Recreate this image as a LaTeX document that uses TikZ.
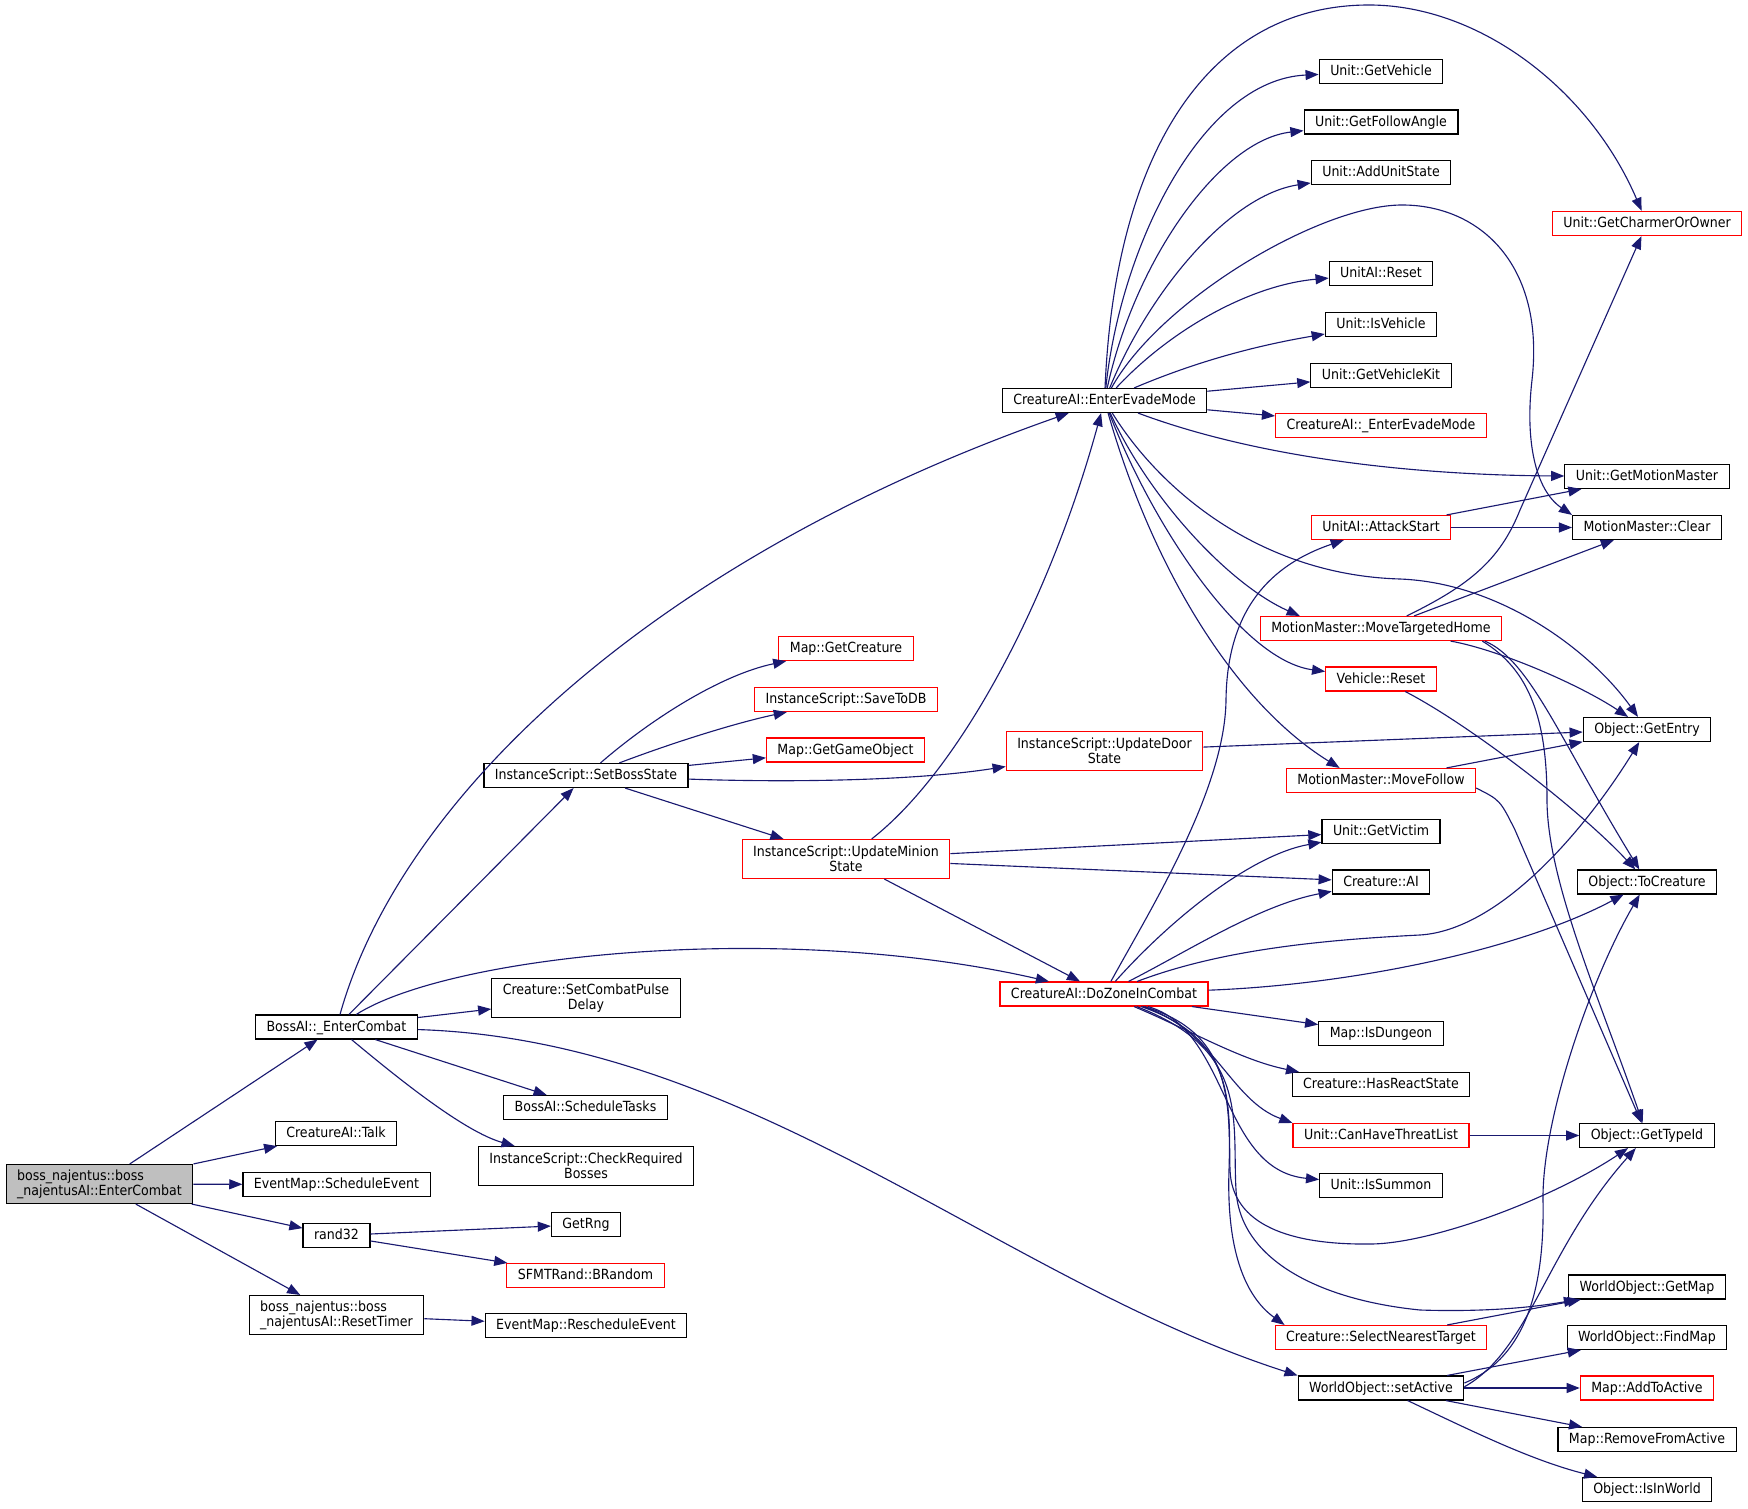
\documentclass[tikz,border=0pt]{standalone}
\usepackage{fontspec}
\setmainfont{DejaVu Sans Condensed}
\usetikzlibrary{arrows.meta}
\definecolor{callblue}{HTML}{191970}
\definecolor{callergray}{HTML}{BFBFBF}
\tikzset{
  fnbase/.style={draw=black, fill=white, line width=0.9pt, inner xsep=8.8pt, inner ysep=2pt,
    font=\fontsize{11.2}{12}\selectfont},
  fn/.style={fnbase, minimum height=19.2pt, text height=8.5pt, text depth=1.6pt},
  fn2/.style={fnbase, align=center, minimum height=31.2pt},
  trunc/.style={draw=red},
  caller/.style={fill=callergray},
  call/.style={draw=callblue, line width=0.9pt, -{Triangle[length=10.5pt,width=8pt]}},
}
\begin{document}
\begin{tikzpicture}[x=0.8pt,y=-0.8pt]
\useasboundingbox (0,0) rectangle (1748,1509);
% the function itself
\node[fn2, caller, align=left] (boss) at (99.5,1184) {boss\_najentus::boss\\\_najentusAI::EnterCombat};
% called by EnterCombat
\node[fn] (bai) at (336.5,1027) {BossAI::\_EnterCombat};
\node[fn] (talk) at (336,1133.5) {CreatureAI::Talk};
\node[fn] (sched) at (336.5,1184.5) {EventMap::ScheduleEvent};
\node[fn] (rnd) at (336.5,1235.5) {rand32};
\node[fn2, align=left] (reset) at (336.5,1315) {boss\_najentus::boss\\\_najentusAI::ResetTimer};
% second column
\node[fn] (sbs) at (586,775.5) {InstanceScript::SetBossState};
\node[fn2] (pulse) at (586,998) {Creature::SetCombatPulse\\Delay};
\node[fn] (tasks) at (585.5,1107.5) {BossAI::ScheduleTasks};
\node[fn2] (chkb) at (586,1166) {InstanceScript::CheckRequired\\Bosses};
\node[fn] (rng) at (586,1224.5) {GetRng};
\node[fn, trunc] (brnd) at (585.5,1275.5) {SFMTRand::BRandom};
\node[fn] (resch) at (586,1325.5) {EventMap::RescheduleEvent};
% third column
\node[fn, trunc] (getcr) at (846,648.5) {Map::GetCreature};
\node[fn, trunc] (save) at (846,699.5) {InstanceScript::SaveToDB};
\node[fn, trunc] (getgo) at (845.5,750) {Map::GetGameObject};
\node[fn2, trunc] (minion) at (846,859) {InstanceScript::UpdateMinion\\State};
% fourth column
\node[fn] (evade) at (1104.5,400.5) {CreatureAI::EnterEvadeMode};
\node[fn2, trunc] (door) at (1104.5,751) {InstanceScript::UpdateDoor\\State};
\node[fn, trunc] (zone) at (1104,994) {CreatureAI::DoZoneInCombat};
% fifth column
\node[fn] (getveh) at (1381,71.5) {Unit::GetVehicle};
\node[fn] (follow) at (1381,122) {Unit::GetFollowAngle};
\node[fn] (addst) at (1381,172.5) {Unit::AddUnitState};
\node[fn] (uareset) at (1381,273.5) {UnitAI::Reset};
\node[fn] (isveh) at (1381,324.5) {Unit::IsVehicle};
\node[fn] (vkit) at (1381,375.5) {Unit::GetVehicleKit};
\node[fn, trunc] (uevade) at (1381,425.5) {CreatureAI::\_EnterEvadeMode};
\node[fn, trunc] (attack) at (1381,527.5) {UnitAI::AttackStart};
\node[fn, trunc] (home) at (1381,628.5) {MotionMaster::MoveTargetedHome};
\node[fn, trunc] (vreset) at (1381,679) {Vehicle::Reset};
\node[fn, trunc] (mfollow) at (1381,780.5) {MotionMaster::MoveFollow};
\node[fn] (victim) at (1381,831.5) {Unit::GetVictim};
\node[fn] (crai) at (1381,882) {Creature::AI};
\node[fn] (dungeon) at (1381,1033.5) {Map::IsDungeon};
\node[fn] (react) at (1381,1084.5) {Creature::HasReactState};
\node[fn, trunc] (threat) at (1381,1135.5) {Unit::CanHaveThreatList};
\node[fn] (summon) at (1381,1185.5) {Unit::IsSummon};
\node[fn, trunc] (nearest) at (1381,1337.5) {Creature::SelectNearestTarget};
\node[fn] (active) at (1381,1388) {WorldObject::setActive};
% last column
\node[fn, trunc] (charm) at (1647,223.5) {Unit::GetCharmerOrOwner};
\node[fn] (motion) at (1647,476.5) {Unit::GetMotionMaster};
\node[fn] (clear) at (1647,527.5) {MotionMaster::Clear};
\node[fn] (entry) at (1647,729.5) {Object::GetEntry};
\node[fn] (tocr) at (1647,882) {Object::ToCreature};
\node[fn] (typeid) at (1647,1135.5) {Object::GetTypeId};
\node[fn] (getmap) at (1647,1287) {WorldObject::GetMap};
\node[fn] (findmap) at (1647,1337.5) {WorldObject::FindMap};
\node[fn, trunc] (addact) at (1647,1388) {Map::AddToActive};
\node[fn] (remact) at (1647,1439.5) {Map::RemoveFromActive};
\node[fn] (inworld) at (1647,1489.5) {Object::IsInWorld};

% calls of EnterCombat
\draw[call] (boss) -- (bai);
\draw[call] (boss) -- (talk);
\draw[call] (boss) -- (sched);
\draw[call] (boss) -- (rnd);
\draw[call] (boss) -- (reset);
% calls of BossAI::_EnterCombat
\draw[call] (bai) .. controls (400,800) and (650,560) .. (evade);
\draw[call] (bai) -- (sbs);
\draw[call] (bai) .. controls (450,955) and (780,920) .. (zone);
\draw[call] (bai) -- (pulse);
\draw[call] (bai) -- (tasks);
\draw[call] (bai) .. controls (400,1080) and (465,1132) .. (chkb);
\draw[call] (bai) .. controls (750,1040) and (1000,1280) .. (active.north west);
% rand32, ResetTimer
\draw[call] (rnd) -- (rng);
\draw[call] (rnd) -- (brnd);
\draw[call] (reset) -- (resch);
% SetBossState
\draw[call] (sbs) .. controls (650,720) and (720,675) .. (getcr);
\draw[call] (sbs) .. controls (680,740) and (740,722) .. (save);
\draw[call] (sbs) -- (getgo);
\draw[call] (sbs) .. controls (800,783) and (920,780) .. (door);
\draw[call] (sbs) -- (minion);
% UpdateMinionState, UpdateDoorState
\draw[call] (minion) .. controls (960,770) and (1050,600) .. (evade);
\draw[call] (minion) -- (victim);
\draw[call] (minion) -- (crai);
\draw[call] (minion) -- (zone);
\draw[call] (door) -- (entry);
% EnterEvadeMode
\draw[call] (evade) .. controls (1115,150) and (1210,5) .. (1369,5)
  .. controls (1480,5) and (1590,90) .. (charm);
\draw[call] (evade) .. controls (1120,250) and (1200,80) .. (getveh);
\draw[call] (evade) .. controls (1135,260) and (1220,140) .. (follow);
\draw[call] (evade) .. controls (1150,290) and (1230,195) .. (addst);
\draw[call] (evade) .. controls (1160,300) and (1320,205) .. (1402,205)
  .. controls (1480,205) and (1545,265) .. (1532,380)
  .. controls (1525,440) and (1535,490) .. (clear.north west);
\draw[call] (evade) .. controls (1170,330) and (1250,285) .. (uareset);
\draw[call] (evade) .. controls (1200,360) and (1260,345) .. (isveh);
\draw[call] (evade) -- (vkit);
\draw[call] (evade) -- (uevade);
\draw[call] (evade) .. controls (1250,455) and (1400,475) .. (motion);
\draw[call] (evade) .. controls (1160,490) and (1260,575) .. (1400,579)
  .. controls (1500,583) and (1590,650) .. (entry);
\draw[call] (evade) .. controls (1150,500) and (1230,585) .. ([xshift=32pt]home.north west);
\draw[call] (evade) .. controls (1150,520) and (1240,660) .. (vreset);
\draw[call] (evade) .. controls (1150,560) and (1230,700) .. ([xshift=43pt]mfollow.north west);
% AttackStart
\draw[call] (attack) -- (motion);
\draw[call] (attack) -- (clear);
% MoveTargetedHome
\draw[call] (home) .. controls (1470,585) and (1500,560) .. (1520,510) -- (charm);
\draw[call] (home) -- (clear);
\draw[call] (home) .. controls (1500,650) and (1580,685) .. (entry);
\draw[call] ([xshift=-14pt]home.south east) .. controls (1530,660) and (1560,740) .. (tocr);
\draw[call] ([xshift=-16pt]home.south east) .. controls (1530,670) and (1547,720) .. (1547,800)
  .. controls (1547,880) and (1600,1000) .. (typeid);
% Vehicle::Reset, MoveFollow
\draw[call] (vreset) .. controls (1470,725) and (1580,810) .. (tocr);
\draw[call] (mfollow) -- (entry);
\draw[call] ([yshift=4pt]mfollow.south east) .. controls (1500,800) .. (1515,830) -- (typeid);
% DoZoneInCombat
\draw[call] (zone) .. controls (1150,910) and (1225,790) .. (1226,700)
  .. controls (1227,610) and (1270,565) .. (attack);
\draw[call] (zone) .. controls (1170,920) and (1250,855) .. (victim);
\draw[call] (zone) .. controls (1190,950) and (1260,905) .. (crai);
\draw[call] (zone) .. controls (1220,950) and (1320,940) .. (1420,935)
  .. controls (1500,930) and (1585,830) .. (entry);
\draw[call] (zone) .. controls (1350,985) and (1520,950) .. (tocr);
\draw[call] (zone) -- (dungeon);
\draw[call] (zone) .. controls (1190,1030) and (1240,1060) .. ([xshift=6pt]react.north west);
\draw[call] (zone) .. controls (1215,1030) and (1230,1100) .. (threat.north west);
\draw[call] (zone) .. controls (1230,1030) and (1220,1170) .. (summon);
\draw[call] (zone) .. controls (1240,1040) and (1228,1110) .. (1230,1170)
  .. controls (1232,1225) and (1290,1245) .. (1370,1244)
  .. controls (1430,1244) and (1550,1200) .. (typeid);
\draw[call] (zone) .. controls (1250,1050) and (1232,1120) .. (1236,1190)
  .. controls (1240,1260) and (1320,1300) .. (1420,1310)
  .. controls (1480,1312) and (1530,1308) .. (getmap);
\draw[call] (zone) .. controls (1220,1030) and (1232,1080) .. (1229,1170)
  .. controls (1226,1260) and (1250,1300) .. ([xshift=8pt]nearest.north west);
% CanHaveThreatList, SelectNearestTarget
\draw[call] (threat) -- (typeid);
\draw[call] (nearest) -- (getmap);
% setActive
\draw[call] ([yshift=4pt]active.east) .. controls (1520,1360) and (1545,1300) .. (1543,1200)
  .. controls (1542,1120) and (1590,980) .. (tocr);
\draw[call] ([yshift=1pt]active.east) .. controls (1530,1350) and (1545,1250) .. (typeid);
\draw[call] (active) -- (findmap);
\draw[call] (active) -- (addact);
\draw[call] (active) -- (remact);
\draw[call] (active) .. controls (1470,1430) and (1530,1460) .. (inworld);
\end{tikzpicture}
\end{document}
